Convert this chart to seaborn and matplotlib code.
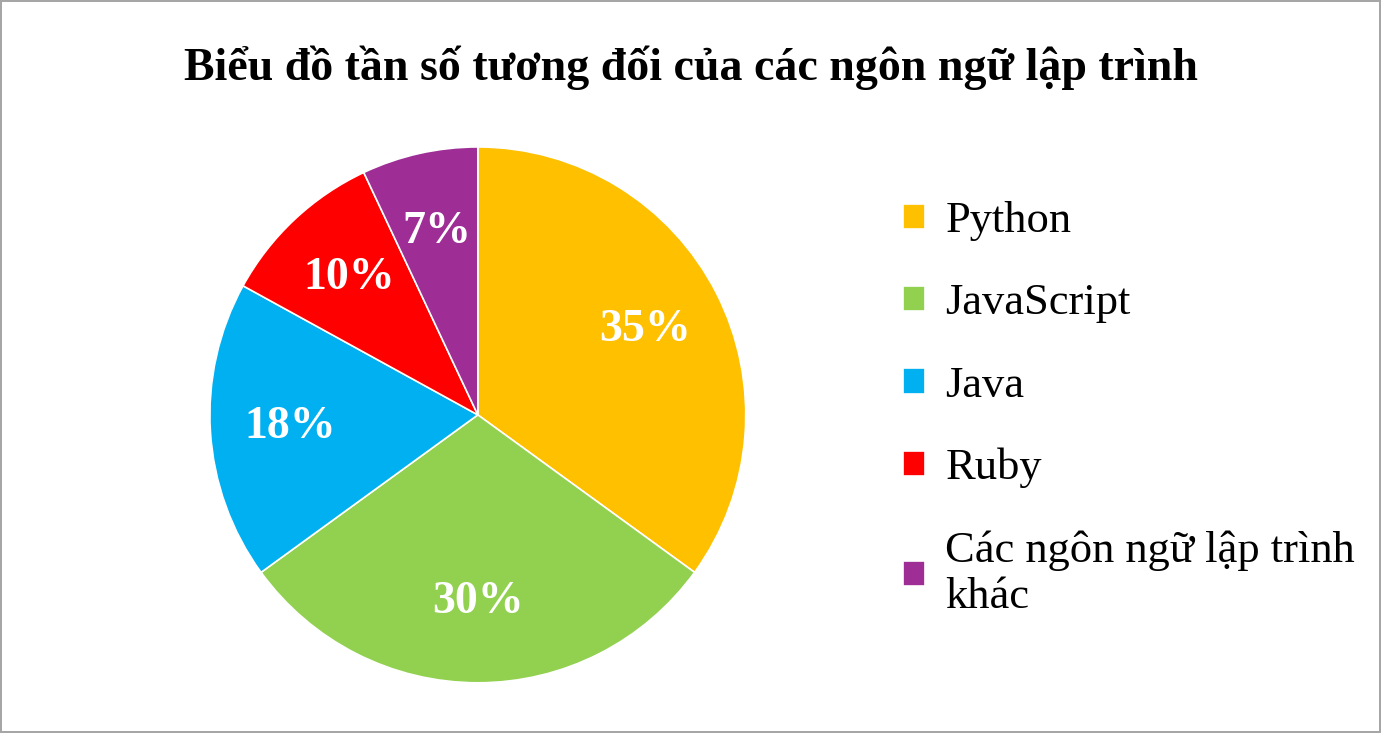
import matplotlib.pyplot as plt
import seaborn as sns

# --- Dati ---
languages = ['Python', 'JavaScript', 'Java', 'Ruby', 'Các ngôn ngữ lập trình\nkhác']
shares = [35, 30, 18, 10, 7]
colors = ['#FFC000', '#92D050', '#00B0F0', '#FF0000', '#9E2E96']
title = 'Biểu đồ tần số tương đối của các ngôn ngữ lập trình'

sns.set_theme(style='white')
plt.rcParams['font.family'] = ['Liberation Serif', 'DejaVu Serif']

fig = plt.figure(figsize=(13.81, 7.33), dpi=100)
fig.patch.set_edgecolor('#A6A6A6')
fig.patch.set_linewidth(1.5)

ax = fig.add_axes([0.152, 0.0685, 0.388, 0.731])
wedges, texts, autotexts = ax.pie(
    shares, colors=colors, startangle=90, counterclock=False,
    autopct='%d%%', pctdistance=0.7,
    wedgeprops=dict(edgecolor='white', linewidth=1.2),
    textprops=dict(color='white', fontsize=33, fontweight='bold'))
ax.set_xlim(-1.0, 1.0)
ax.set_ylim(-1.0, 1.0)
ax.set_aspect('equal')

fig.text(0.5, 0.907, title, ha='center', va='center', fontsize=33,
         fontweight='bold', color='black')

leg = fig.legend(wedges, languages, loc='upper left', bbox_to_anchor=(0.625, 0.78),
                 frameon=False, fontsize=32, labelspacing=0.95,
                 handlelength=0.5, handleheight=0.5, handletextpad=0.45)
for t in leg.get_texts():
    t.set_color('black')

plt.savefig('out.png', dpi=100)
